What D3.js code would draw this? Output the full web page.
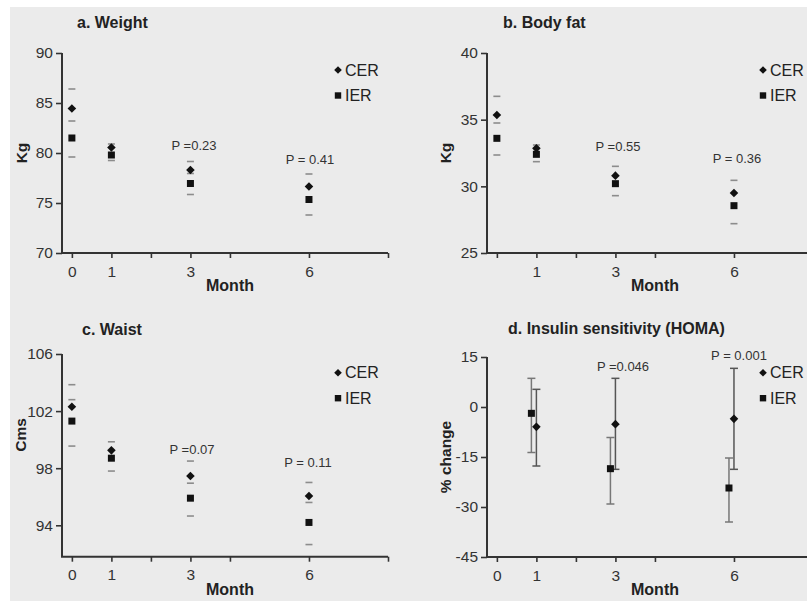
<!DOCTYPE html>
<html>
<head>
<meta charset="utf-8">
<script src="https://cdn.jsdelivr.net/npm/d3@7"></script>
<style>
  html, body { margin: 0; padding: 0; background: #ffffff; }
  svg { display: block; }
  text { font-family: "Liberation Sans", Arial, Helvetica, sans-serif; }
</style>
</head>
<body>
<svg id="chart" width="807" height="601"></svg>
<script>
// ---------------- DATA ----------------
const months = [0, 1, 3, 6];
const xTickValues = [0, 1, 2, 3, 4, 6, 8];
const xTickLabels = [0, 1, 3, 6];
const seriesNames = ["CER", "IER"];

// a. Weight (Kg)
const weightTicks = [70, 75, 80, 85, 90];
const weightCER = [84.45, 80.55, 78.3, 76.65];
const weightIER = [81.5, 79.8, 76.95, 75.35];
const weightCaps = [[86.4, 83.2, 79.6], [80.9, 79.25], [79.15, 77.95, 75.85], [77.9, 73.8]];
const weightP = ["", "", "P =0.23", "P = 0.41"];

// b. Body fat (Kg)
const fatTicks = [25, 30, 35, 40];
const fatCER = [35.35, 32.85, 30.8, 29.5];
const fatIER = [33.6, 32.4, 30.2, 28.55];
const fatCaps = [[36.75, 34.75, 32.35], [33.1, 31.85], [31.5, 29.3], [30.45, 27.2]];
const fatP = ["", "", "P =0.55", "P = 0.36"];

// c. Waist (Cms)
const waistTicks = [94, 98, 102, 106];
const waistCER = [102.3, 99.25, 97.45, 96.05];
const waistIER = [101.3, 98.7, 95.9, 94.2];
const waistCaps = [[103.85, 102.8, 99.55], [99.85, 97.8], [98.5, 96.95, 94.65], [97.0, 95.6, 92.65]];
const waistP = ["", "", "P =0.07", "P = 0.11"];

// d. Insulin sensitivity (HOMA) (% change)
const homaMonths = [1, 3, 6];
const homaTicks = [-45, -30, -15, 0, 15];
const homaCER = [-5.95, -5.15, -3.55];
const homaCERLow = [-17.7, -18.7, -18.7];
const homaCERHigh = [5.3, 8.6, 11.6];
const homaIER = [-1.9, -18.5, -24.3];
const homaIERLow = [-13.65, -29.1, -34.5];
const homaIERHigh = [8.6, -9.15, -15.3];
const homaP = ["", "P =0.046", "P = 0.001"];

// ---------------- LAYOUT ----------------
const svg = d3.select("#chart");
svg.append("rect").attr("x", 10).attr("y", 7).attr("width", 797).attr("height", 594).attr("fill", "#ebebeb");

const panels = [
  { title: "a. Weight", yTitle: "Kg", left: 62, right: 388, top: 53, bottom: 253, domain: [70, 90],
    ticks: weightTicks, cer: weightCER, ier: weightIER, caps: weightCaps, p: weightP,
    titleX: 77, titleY: 28, yTitleX: 22, yTitleY: 153, labels: xTickLabels, legendX: 338, legendY: 70 },
  { title: "b. Body fat", yTitle: "Kg", left: 487, right: 813, top: 53, bottom: 253, domain: [25, 40],
    ticks: fatTicks, cer: fatCER, ier: fatIER, caps: fatCaps, p: fatP,
    titleX: 503, titleY: 28, yTitleX: 446, yTitleY: 153, labels: [1, 3, 6], legendX: 763, legendY: 70 },
  { title: "c. Waist", yTitle: "Cms", left: 62, right: 388, top: 354, bottom: 556.7, domain: [91.8, 106],
    ticks: waistTicks, cer: waistCER, ier: waistIER, caps: waistCaps, p: waistP,
    titleX: 82, titleY: 335, yTitleX: 21, yTitleY: 435, labels: xTickLabels, legendX: 338, legendY: 372.7 },
  { title: "d. Insulin sensitivity (HOMA)", yTitle: "% change", left: 487, right: 813, top: 357, bottom: 557, domain: [-45, 15],
    ticks: homaTicks, homa: true, p: homaP,
    titleX: 508, titleY: 334, yTitleX: 446, yTitleY: 457, labels: xTickLabels, legendX: 763, legendY: 372.7 }
];

const pOffsets = {
  "P =0.23": [194, 150], "P = 0.41": [310, 164],
  "P =0.55": [618, 151], "P = 0.36": [737, 163],
  "P =0.07": [192, 454], "P = 0.11": [308, 467],
  "P =0.046": [623, 371], "P = 0.001": [739, 360]
};

function diamond(s) { return `M0,${-s}L${s},0L0,${s}L${-s},0Z`; }

panels.forEach(pn => {
  const g = svg.append("g");
  const x = d3.scaleLinear().domain([-0.25, 8]).range([pn.left, pn.right]);
  const y = d3.scaleLinear().domain(pn.domain).range([pn.bottom, pn.top]);

  // axes
  const xAxis = d3.axisBottom(x).tickValues(xTickValues).tickSize(5).tickSizeOuter(0).tickPadding(4)
    .tickFormat(d => pn.labels.includes(d) ? String(d) : "");
  const gx = g.append("g").attr("transform", `translate(0,${pn.bottom})`).call(xAxis);
  const yAxis = d3.axisLeft(y).tickValues(pn.ticks).tickSize(6).tickSizeOuter(0).tickPadding(3)
    .tickFormat(d => String(d));
  const gy = g.append("g").attr("transform", `translate(${pn.left},0)`).call(yAxis);
  [gx, gy].forEach(ax => {
    ax.select(".domain").attr("stroke", "#333").attr("stroke-width", 2);
    ax.selectAll(".tick line").attr("stroke", "#333").attr("stroke-width", 1.6);
    ax.selectAll(".tick text").attr("fill", "#333").style("font-size", "15.5px").style("font-family", "'Liberation Sans', Arial, sans-serif");
  });
  gy.select(".domain").attr("d", `M0,${pn.top}V${pn.bottom}`);
  gx.select(".domain").attr("d", `M${pn.left - 1},0H${pn.right}`);
  gx.selectAll(".tick text").attr("dy", "0.95em");

  // titles
  g.append("text").attr("x", pn.titleX).attr("y", pn.titleY).text(pn.title)
    .attr("font-weight", "bold").attr("font-size", 16).attr("fill", "#222");
  g.append("text").attr("transform", `translate(${pn.yTitleX},${pn.yTitleY}) rotate(-90)`)
    .attr("text-anchor", "middle").attr("dy", "0.35em").text(pn.yTitle)
    .attr("font-weight", "bold").attr("font-size", 15.5).attr("fill", "#222");
  g.append("text").attr("x", pn.left + 168).attr("y", pn.bottom + 38).attr("text-anchor", "middle")
    .text("Month").attr("font-weight", "bold").attr("font-size", 16).attr("fill", "#222");

  // p-values
  pn.p.forEach(t => {
    if (!t) return;
    const [px, py] = pOffsets[t];
    g.append("text").attr("x", px).attr("y", py).attr("text-anchor", "middle")
      .text(t).attr("font-size", 13).attr("fill", "#333");
  });

  if (!pn.homa) {
    months.forEach((m, i) => {
      pn.caps[i].forEach(v => {
        g.append("line").attr("x1", x(m) - 3.5).attr("x2", x(m) + 3.5)
          .attr("y1", y(v)).attr("y2", y(v)).attr("stroke", "#8c8c8c").attr("stroke-width", 1.6);
      });
    });
    g.selectAll(".sq").data(pn.ier).enter().append("rect")
      .attr("x", (d, i) => x(months[i]) - 3.5).attr("y", d => y(d) - 3.5)
      .attr("width", 7).attr("height", 7).attr("fill", "#111");
    g.selectAll(".dm").data(pn.cer).enter().append("path")
      .attr("transform", (d, i) => `translate(${x(months[i])},${y(d)})`)
      .attr("d", diamond(4.3)).attr("fill", "#111");
  } else {
    const dodge = -5;
    function bars(vals, lo, hi, dx, col) {
      homaMonths.forEach((m, i) => {
        const cx = x(m) + dx;
        g.append("line").attr("x1", cx).attr("x2", cx).attr("y1", y(lo[i])).attr("y2", y(hi[i]))
          .attr("stroke", col).attr("stroke-width", 1.5);
        [lo[i], hi[i]].forEach(v => g.append("line").attr("x1", cx - 4).attr("x2", cx + 4)
          .attr("y1", y(v)).attr("y2", y(v)).attr("stroke", col).attr("stroke-width", 1.5));
      });
    }
    bars(homaIER, homaIERLow, homaIERHigh, dodge, "#777");
    bars(homaCER, homaCERLow, homaCERHigh, 0, "#555");
    g.selectAll(".sq").data(homaIER).enter().append("rect")
      .attr("x", (d, i) => x(homaMonths[i]) + dodge - 3.5).attr("y", d => y(d) - 3.5)
      .attr("width", 7).attr("height", 7).attr("fill", "#111");
    g.selectAll(".dm").data(homaCER).enter().append("path")
      .attr("transform", (d, i) => `translate(${x(homaMonths[i])},${y(d)})`)
      .attr("d", diamond(4.3)).attr("fill", "#111");
  }

  // legend
  seriesNames.forEach((name, k) => {
    const ly = pn.legendY + k * 25.5;
    if (k === 0) {
      g.append("path").attr("transform", `translate(${pn.legendX},${ly})`).attr("d", diamond(3.8)).attr("fill", "#111");
    } else {
      g.append("rect").attr("x", pn.legendX - 3.2).attr("y", ly - 3.2).attr("width", 6.4).attr("height", 6.4).attr("fill", "#111");
    }
    g.append("text").attr("x", pn.legendX + 7).attr("y", ly).attr("dy", "0.36em")
      .text(name).attr("font-size", 16).attr("fill", "#222");
  });
});
</script>
</body>
</html>
